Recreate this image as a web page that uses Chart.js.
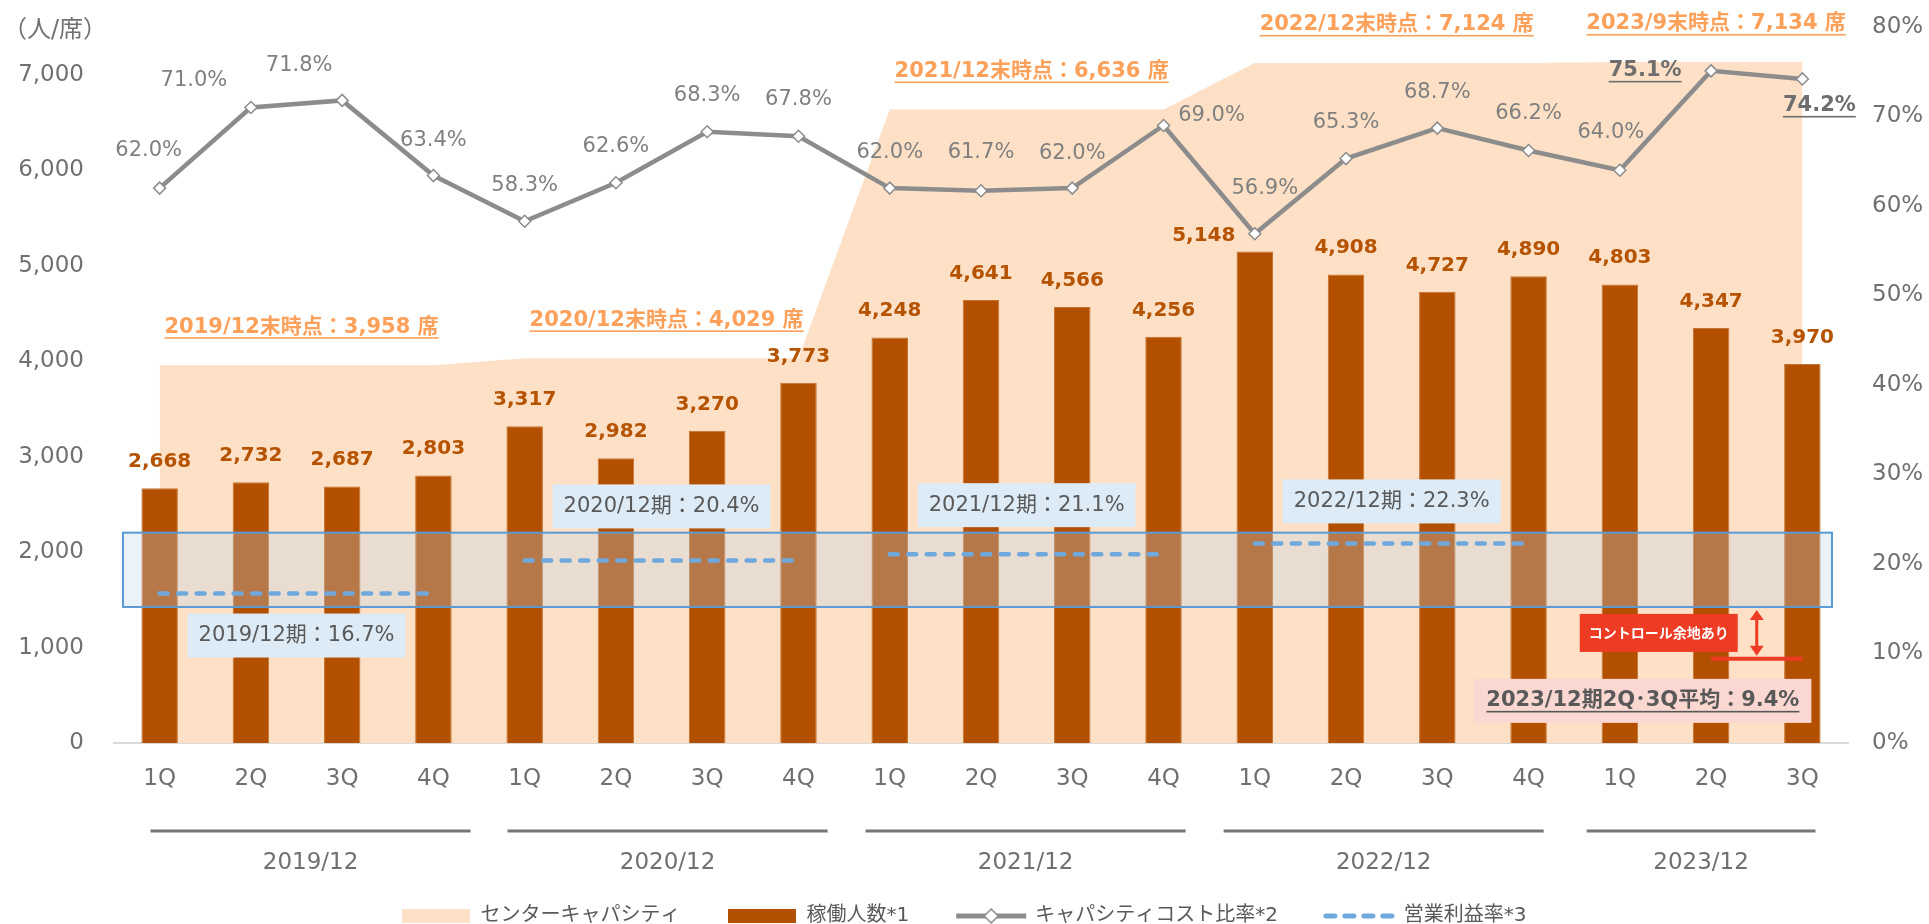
<!DOCTYPE html>
<html lang="ja">
<head>
<meta charset="utf-8">
<title>稼働人数とキャパシティコスト比率</title>
<script src="https://cdn.jsdelivr.net/npm/chart.js@4.4.1/dist/chart.umd.min.js"></script>
<style>
  html, body { margin: 0; padding: 0; background: #fff; }
  #wrap { width: 1929px; height: 924px; position: relative; }
</style>
</head>
<body>
<div id="wrap"><canvas id="myChart"></canvas></div>
<script>
// 横軸
var quarterLabels = ['1Q', '2Q', '3Q', '4Q', '1Q', '2Q', '3Q', '4Q', '1Q', '2Q', '3Q', '4Q', '1Q', '2Q', '3Q', '4Q', '1Q', '2Q', '3Q'];
var years = ['2019/12', '2020/12', '2021/12', '2022/12', '2023/12'];
var seatTicks = [0, 1000, 2000, 3000, 4000, 5000, 6000, 7000];

// センターキャパシティ（席）
var capacitySeats = [3958, 3958, 3958, 3958, 4029, 4029, 4029, 4029, 6636, 6636, 6636, 6636, 7124, 7124, 7124, 7124, 7134, 7134, 7134];
var capacityNotes = ['2019/12末時点', '2020/12末時点', '2021/12末時点', '2022/12末時点', '2023/9末時点'];
var capacityAtNote = [3958, 4029, 6636, 7124, 7134];

// 稼働人数（人）
var activeStaff = [2668, 2732, 2687, 2803, 3317, 2982, 3270, 3773, 4248, 4641, 4566, 4256, 5148, 4908, 4727, 4890, 4803, 4347, 3970];

// キャパシティコスト比率（%）
var capacityCostRatio = [62.0, 71.0, 71.8, 63.4, 58.3, 62.6, 68.3, 67.8, 62.0, 61.7, 62.0, 69.0, 56.9, 65.3, 68.7, 66.2, 64.0, 75.1, 74.2];

// 営業利益率（%）
var operatingMargin = [16.7, 16.7, 16.7, 16.7, 20.4, 20.4, 20.4, 20.4, 21.1, 21.1, 21.1, 21.1, 22.3, 22.3, 22.3, 22.3, null, null, null];
var marginByYear = [16.7, 20.4, 21.1, 22.3];
// 2023/12期 2Q・3Q平均
var recentMargin = [null, null, null, null, null, null, null, null, null, null, null, null, null, null, null, null, null, 9.4, 9.4];
var recentMarginAvg = 9.4;
var controlBand = [15.2, 23.5];

var legendNames = ['センターキャパシティ', '稼働人数*1', 'キャパシティコスト比率*2', '営業利益率*3'];

// ラベル位置の微調整
var ratioLabelShift = [[-11, -38], [-57, -27], [-43, -35], [0, -35], [0, -36], [0, -36], [0, -36], [0, -37], [0, -36], [0, -38],
  [0, -35], [48, -10], [10, -45], [0, -36], [0, -36], [0, -37], [-9, -38], [-66, 0], [17, 27]];
var ratioEmphasis = [17, 18];
var barLabelShift = { 12: [-51, 10] };
var marginLabelDy = [42, -54, -49, -42];
var yearLabelShift = [14, 6, -1, -8, -10];

var FONT = '"DejaVu Sans", "Noto Sans CJK JP", sans-serif';
var CAP_FILL = '#FDE0C5';
var BAR_COLOR = '#B35000';
var RATIO_COLOR = '#8C8C8C';
var MARGIN_COLOR = '#6FA8DC';
var RED = '#EE3B24';
var NOTE_COLOR = '#FCA05A';
var AXIS_TEXT = '#707070';

var yearOf = (function () {
  var y = -1;
  return quarterLabels.map(function (q) { if (q === '1Q') y++; return y; });
})();

function fmt(v) { return v.toLocaleString('en-US'); }

function drawText(ctx, str, x, y, o) {
  ctx.font = o.font;
  ctx.fillStyle = o.color;
  ctx.textAlign = o.align || 'center';
  ctx.textBaseline = o.baseline || 'middle';
  ctx.fillText(str, x, y);
  if (o.underline) {
    var w = ctx.measureText(str).width;
    var x0 = ctx.textAlign === 'center' ? x - w / 2 : (ctx.textAlign === 'right' ? x - w : x);
    ctx.fillRect(x0, y + o.underline, w, 1.6);
  }
}

function groupRange(chart, k) {
  var xs = chart.scales.x;
  var idx = [];
  yearOf.forEach(function (g, i) { if (g === k) idx.push(i); });
  var half = (xs.getPixelForValue(1) - xs.getPixelForValue(0)) / 2;
  return {
    left: xs.getPixelForValue(idx[0]) - half,
    right: xs.getPixelForValue(idx[idx.length - 1]) + half,
    center: (xs.getPixelForValue(idx[0]) + xs.getPixelForValue(idx[idx.length - 1])) / 2
  };
}

function makeIcon(w, h, draw) {
  var c = document.createElement('canvas');
  c.width = w; c.height = h;
  draw(c.getContext('2d'), w, h);
  return c;
}

var legendIcons = [
  makeIcon(68, 14, function (g, w, h) { g.fillStyle = CAP_FILL; g.fillRect(0, 0, w, h); }),
  makeIcon(68, 14, function (g, w, h) { g.fillStyle = BAR_COLOR; g.fillRect(0, 0, w, h); }),
  makeIcon(72, 16, function (g, w, h) {
    g.strokeStyle = RATIO_COLOR; g.lineWidth = 5;
    g.beginPath(); g.moveTo(1, h / 2); g.lineTo(w - 1, h / 2); g.stroke();
    g.beginPath();
    g.moveTo(w / 2 - 7, h / 2); g.lineTo(w / 2, h / 2 - 7); g.lineTo(w / 2 + 7, h / 2); g.lineTo(w / 2, h / 2 + 7);
    g.closePath(); g.fillStyle = '#fff'; g.fill(); g.lineWidth = 1.5; g.stroke();
  }),
  makeIcon(74, 8, function (g, w, h) {
    g.strokeStyle = MARGIN_COLOR; g.lineWidth = 5; g.lineCap = 'round'; g.setLineDash([9, 10]);
    g.beginPath(); g.moveTo(3, h / 2); g.lineTo(w - 3, h / 2); g.stroke();
  })
];

// 縦軸ラベルの上下余白を詰める
function fitSide(width) {
  return function (scale) {
    scale.width = width;
    scale.paddingTop = 0;
    scale.paddingBottom = 0;
  };
}

var overlayPlugin = {
  id: 'overlay',
  afterDatasetDraw: function (chart, args) {
    if (args.meta.type !== 'bar') return;
    // 営業利益率レンジの枠
    var ctx = chart.ctx, area = chart.chartArea, y2 = chart.scales.y2;
    var top = y2.getPixelForValue(controlBand[1]);
    var bottom = y2.getPixelForValue(controlBand[0]);
    var left = area.left + 9, right = area.right - 16;
    ctx.save();
    ctx.fillStyle = 'rgba(190,215,240,0.3)';
    ctx.fillRect(left, top, right - left, bottom - top);
    ctx.strokeStyle = '#5B9BD5';
    ctx.lineWidth = 2;
    ctx.strokeRect(left, top, right - left, bottom - top);
    ctx.restore();
  },
  afterDatasetsDraw: function (chart) {
    var ctx = chart.ctx, area = chart.chartArea;
    var xs = chart.scales.x, ys = chart.scales.y, y2 = chart.scales.y2;
    ctx.save();

    // 単位
    drawText(ctx, '（人/席）', 3, 31, { font: '24px ' + FONT, color: AXIS_TEXT, align: 'left' });

    // キャパシティ注記
    capacityNotes.forEach(function (note, k) {
      var g = groupRange(chart, k);
      drawText(ctx, note + '：' + fmt(capacityAtNote[k]) + ' 席', g.center + 5,
        ys.getPixelForValue(capacityAtNote[k]) - 38,
        { font: 'bold 21px ' + FONT, color: NOTE_COLOR, underline: 10 });
    });

    // 稼働人数ラベル
    chart.getDatasetMeta(1).data.forEach(function (bar, i) {
      var s = barLabelShift[i] || [0, 0];
      drawText(ctx, fmt(activeStaff[i]), bar.x + s[0], bar.y - 21 + s[1],
        { font: 'bold 20px ' + FONT, color: '#B55300', baseline: 'alphabetic' });
    });

    // キャパシティコスト比率ラベル
    chart.getDatasetMeta(2).data.forEach(function (pt, i) {
      var s = ratioLabelShift[i];
      var strong = ratioEmphasis.indexOf(i) >= 0;
      drawText(ctx, capacityCostRatio[i].toFixed(1) + '%', pt.x + s[0], pt.y + s[1], {
        font: (strong ? 'bold ' : '') + '21px ' + FONT,
        color: strong ? '#6E6E6E' : '#808080',
        underline: strong ? 10 : 0
      });
    });

    // 営業利益率ラベル
    marginByYear.forEach(function (m, k) {
      var txt = years[k] + '期：' + m.toFixed(1) + '%';
      ctx.font = '21px ' + FONT;
      var w = ctx.measureText(txt).width + 22, h = 44;
      var cx = groupRange(chart, k).center;
      var cy = y2.getPixelForValue(m) + marginLabelDy[k];
      ctx.fillStyle = '#DDEBF7';
      ctx.fillRect(cx - w / 2, cy - h / 2, w, h);
      drawText(ctx, txt, cx, cy, { font: '21px ' + FONT, color: '#595959' });
    });

    // 2023/12期 平均
    var avgY = y2.getPixelForValue(recentMarginAvg);
    var lastX = xs.getPixelForValue(quarterLabels.length - 1);
    var avgTxt = '2023/12期2Q･3Q平均：' + recentMarginAvg.toFixed(1) + '%';
    ctx.font = 'bold 21px ' + FONT;
    var aw = ctx.measureText(avgTxt).width + 24;
    ctx.fillStyle = '#FAD7D0';
    ctx.fillRect(lastX + 9 - aw, avgY + 42 - 22, aw, 44);
    drawText(ctx, avgTxt, lastX + 9 - aw / 2, avgY + 42, { font: 'bold 21px ' + FONT, color: '#595959', underline: 10 });

    // 両矢印
    var ax = (xs.getPixelForValue(quarterLabels.length - 2) + lastX) / 2;
    var aTop = y2.getPixelForValue(controlBand[0]) + 3;
    var aBot = avgY - 3;
    ctx.strokeStyle = RED; ctx.fillStyle = RED; ctx.lineWidth = 3;
    ctx.beginPath(); ctx.moveTo(ax, aTop + 8); ctx.lineTo(ax, aBot - 8); ctx.stroke();
    ctx.beginPath(); ctx.moveTo(ax, aTop); ctx.lineTo(ax - 7, aTop + 10); ctx.lineTo(ax + 7, aTop + 10); ctx.closePath(); ctx.fill();
    ctx.beginPath(); ctx.moveTo(ax, aBot); ctx.lineTo(ax - 7, aBot - 10); ctx.lineTo(ax + 7, aBot - 10); ctx.closePath(); ctx.fill();

    var bcy = (aTop + aBot) / 2;
    ctx.fillStyle = RED;
    ctx.fillRect(ax - 19 - 158, bcy - 19, 158, 38);
    drawText(ctx, 'コントロール余地あり', ax - 19 - 79, bcy, { font: 'bold 14px "Noto Sans CJK JP", sans-serif', color: '#fff' });

    // 年度の区切り線とラベル
    years.forEach(function (yr, k) {
      var g = groupRange(chart, k);
      var w = g.right - g.left - 45;
      var cx = g.center + yearLabelShift[k];
      ctx.strokeStyle = '#767676'; ctx.lineWidth = 3;
      ctx.beginPath();
      ctx.moveTo(cx - w / 2, area.bottom + 88);
      ctx.lineTo(cx + w / 2, area.bottom + 88);
      ctx.stroke();
      drawText(ctx, yr, cx, area.bottom + 120, { font: '23px ' + FONT, color: AXIS_TEXT });
    });

    ctx.restore();
  }
};

Chart.defaults.font.family = FONT;

var ctx = document.getElementById('myChart');
var myChart = new Chart(ctx, {
  type: 'bar',
  data: {
    labels: quarterLabels,
    datasets: [{
      type: 'line',
      label: legendNames[0],
      data: capacitySeats,
      yAxisID: 'y',
      fill: 'origin',
      backgroundColor: CAP_FILL,
      borderWidth: 0,
      pointRadius: 0,
      tension: 0,
      order: 4
    }, {
      type: 'bar',
      label: legendNames[1],
      data: activeStaff,
      yAxisID: 'y',
      backgroundColor: BAR_COLOR,
      borderColor: '#C4722F',
      borderWidth: 1,
      barPercentage: 0.4,
      categoryPercentage: 1.0,
      order: 3
    }, {
      type: 'line',
      label: legendNames[2],
      data: capacityCostRatio,
      yAxisID: 'y2',
      borderColor: RATIO_COLOR,
      borderWidth: 4.5,
      pointStyle: 'rectRot',
      pointRadius: 6,
      pointBackgroundColor: '#fff',
      pointBorderColor: RATIO_COLOR,
      pointBorderWidth: 1.5,
      tension: 0,
      order: 0
    }, {
      type: 'line',
      label: legendNames[3],
      data: operatingMargin,
      yAxisID: 'y2',
      borderColor: MARGIN_COLOR,
      borderWidth: 4.5,
      borderDash: [8, 10.5],
      borderCapStyle: 'round',
      pointRadius: 0,
      segment: {
        borderColor: function (c) {
          return yearOf[c.p0DataIndex] !== yearOf[c.p1DataIndex] ? 'rgba(0,0,0,0)' : MARGIN_COLOR;
        }
      },
      order: 2
    }, {
      type: 'line',
      label: '2023/12期2Q･3Q平均',
      data: recentMargin,
      yAxisID: 'y2',
      borderColor: RED,
      borderWidth: 4,
      pointRadius: 0,
      order: 1
    }]
  },
  options: {
    responsive: true,
    maintainAspectRatio: false,
    animation: false,
    layout: { padding: { top: 27, left: 0, right: 0, bottom: -12 } },
    plugins: {
      tooltip: { enabled: false },
      legend: {
        position: 'bottom',
        labels: {
          usePointStyle: true,
          pointStyleWidth: 68,
          boxHeight: 14,
          padding: 48,
          color: '#595959',
          font: { size: 20 },
          generateLabels: function () {
            return legendNames.map(function (t, i) {
              return { text: t, pointStyle: legendIcons[i], datasetIndex: i, hidden: false,
                lineWidth: 0, fillStyle: 'rgba(0,0,0,0)', strokeStyle: 'rgba(0,0,0,0)', fontColor: '#595959' };
            });
          }
        }
      }
    },
    scales: {
      x: {
        grid: { display: false, drawTicks: false },
        border: { display: true, color: '#D9D9D9', width: 2 },
        ticks: { color: AXIS_TEXT, font: { size: 23 }, padding: 22, autoSkip: false, maxRotation: 0 },
        afterFit: function (scale) { scale.height = 115; }
      },
      y: {
        position: 'left',
        min: 0,
        max: 7500,
        grid: { display: false, drawTicks: false },
        border: { display: false },
        ticks: {
          padding: 30,
          color: AXIS_TEXT,
          font: { size: 23 },
          autoSkip: false,
          callback: function (v) { return fmt(v); }
        },
        afterBuildTicks: function (scale) {
          scale.ticks = seatTicks.map(function (v) { return { value: v }; });
        },
        afterFit: fitSide(114)
      },
      y2: {
        position: 'right',
        min: 0,
        max: 80,
        grid: { display: false, drawTicks: false },
        border: { display: false },
        ticks: {
          stepSize: 10,
          padding: 24,
          color: AXIS_TEXT,
          font: { size: 23 },
          callback: function (v) { return v + '%'; }
        },
        afterFit: fitSide(81)
      }
    }
  },
  plugins: [overlayPlugin]
});
</script>
</body>
</html>
